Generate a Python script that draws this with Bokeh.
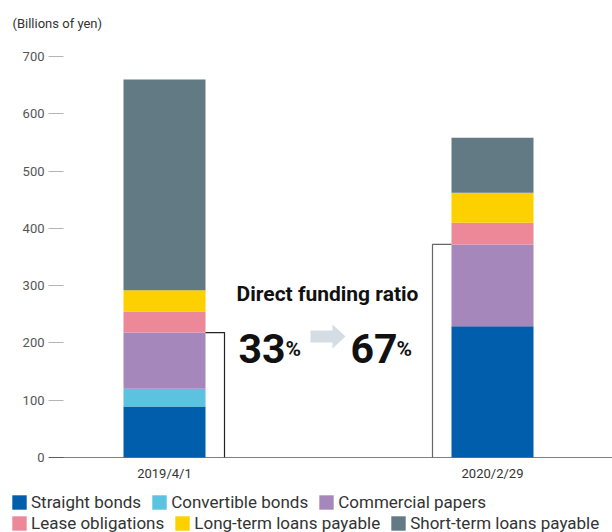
from bokeh.plotting import figure
from bokeh.layouts import column
from bokeh.models import (ColumnDataSource, FixedTicker, Range1d, Span, Label,
                          Legend, LegendItem)
from bokeh.embed import file_html
from bokeh.resources import INLINE

# ---- data ----
dates = ["2019/4/1", "2020/2/29"]
straight_bonds = [89, 229]
convertible_bonds = [31, 0]
commercial_papers = [98, 143]
lease_obligations = [37, 38]
long_term_loans = [37, 52]
short_term_loans = [368, 96]
series_names = ["Straight bonds", "Convertible bonds", "Commercial papers",
                "Lease obligations", "Long-term loans payable", "Short-term loans payable"]
colors = ["#005eac", "#5bc2e0", "#a687bb", "#ec8898", "#fdd000", "#627a84"]
y_ticks = [0, 100, 200, 300, 400, 500, 600, 700]
ratio_before = "33"
ratio_after = "67"

# ---- geometry helpers (screen px -> data) ----
W = 612
H1 = 484                          # main chart height
H2 = 532 - H1                     # legend strip height
FL, FB, FT = 48, 457, 40          # frame left, bottom, top (px)
PX_PER_CAT = 328.0
PX_PER_UNIT = (457 - 56) / 700.0
xs = 1 - 116 / PX_PER_CAT
xe = xs + (W - FL) / PX_PER_CAT
ye = (FB - FT) / PX_PER_UNIT


def dx(px):
    return xs + (px - FL) / PX_PER_CAT


def dy(py):
    return (FB - py) / PX_PER_UNIT


p = figure(width=W, height=H1, output_backend="svg", toolbar_location=None,
           x_range=Range1d(xs, xe), y_range=Range1d(0, ye),
           min_border_left=FL, min_border_right=0, min_border_top=FT,
           min_border_bottom=H1 - FB)
p.outline_line_color = None
p.grid.visible = False
p.background_fill_color = "white"

p.title.text = "(Billions of yen)"
p.title.align = "left"
p.title.offset = 12 - FL
p.title.standoff = 19
p.title.text_font = "Roboto"
p.title.text_font_style = "normal"
p.title.text_font_size = "13px"
p.title.text_color = "#333333"

xpos = [1, 2]
src = ColumnDataSource(dict(x=xpos,
                            s0=straight_bonds, s1=convertible_bonds, s2=commercial_papers,
                            s3=lease_obligations, s4=long_term_loans, s5=short_term_loans))
keys = ["s0", "s1", "s2", "s3", "s4", "s5"]
bar_w = 82 / PX_PER_CAT
rends = p.vbar_stack(keys, x="x", width=bar_w, color=colors, source=src, line_color=None)

# ---- axes ----
ya = p.yaxis[0]
ya.ticker = FixedTicker(ticks=y_ticks)
ya.axis_line_color = None
ya.major_tick_in = 15
ya.major_tick_out = 0
ya.major_tick_line_color = "#b5b5b5"
ya.major_tick_line_width = 1
ya.minor_tick_line_color = None
ya.major_label_standoff = 4
ya.major_label_text_font = "Roboto"
ya.major_label_text_font_size = "13px"
ya.major_label_text_color = "#555555"

xa = p.xaxis[0]
xa.ticker = FixedTicker(ticks=xpos)
xa.major_label_overrides = {1: dates[0], 2: dates[1]}
xa.axis_line_color = None
xa.major_tick_line_color = None
xa.minor_tick_line_color = None
xa.major_label_standoff = 2
xa.major_label_text_font = "Roboto"
xa.major_label_text_font_size = "13px"
xa.major_label_text_color = "#333333"

p.add_layout(Span(location=0, dimension="width", line_color="black", line_width=1.2))

# ---- brackets for direct funding ----
direct = [straight_bonds[i] + convertible_bonds[i] + commercial_papers[i] for i in range(2)]
off = 19 / PX_PER_CAT
p.line([1 + bar_w / 2, 1 + bar_w / 2 + off, 1 + bar_w / 2 + off],
       [direct[0], direct[0], 0], line_color="#222222", line_width=1.2)
p.line([2 - bar_w / 2, 2 - bar_w / 2 - off, 2 - bar_w / 2 - off],
       [direct[1], direct[1], 0], line_color="#666666", line_width=1.2)

# ---- annotation text ----
p.add_layout(Label(x=dx(327), y=dy(293), text="Direct funding ratio", text_font="Roboto",
                   text_font_style="bold", text_font_size="21px", text_color="#111111",
                   text_align="center", text_baseline="middle"))
p.add_layout(Label(x=dx(238), y=dy(348), text=ratio_before, text_font="Roboto",
                   text_font_style="bold", text_font_size="41px", text_color="#111111",
                   text_align="left", text_baseline="alphabetic"))
p.add_layout(Label(x=dx(285), y=dy(348), text="%", text_font="Roboto",
                   text_font_style="bold", text_font_size="21px", text_color="#111111",
                   text_align="left", text_baseline="alphabetic"))
p.add_layout(Label(x=dx(350), y=dy(348), text=ratio_after, text_font="Roboto",
                   text_font_style="bold", text_font_size="41px", text_color="#111111",
                   text_align="left", text_baseline="alphabetic"))
p.add_layout(Label(x=dx(396), y=dy(348), text="%", text_font="Roboto",
                   text_font_style="bold", text_font_size="21px", text_color="#111111",
                   text_align="left", text_baseline="alphabetic"))

# arrow
ax = [310, 332, 332, 345, 332, 332, 310]
ay = [330, 330, 324, 336, 348, 342, 342]
p.patch([dx(v) for v in ax], [dy(v) for v in ay], fill_color="#d3dde3", line_color=None)

# ---- legend strip ----
p2 = figure(width=W, height=H2, output_backend="svg", toolbar_location=None,
            x_range=Range1d(0, 1), y_range=Range1d(0, 1),
            x_axis_location=None, y_axis_location=None,
            min_border=0, min_border_left=0, min_border_right=0,
            min_border_top=0, min_border_bottom=0)
if hasattr(p2, "frame_align"):
    p2.frame_align = False
    p.frame_align = False
p2.outline_line_color = None
p2.grid.visible = False
# legend proxies (kept outside the visible range)
lrends = [p2.vbar(x=[-5], top=[0], width=0.1, fill_color=c, line_color=None) for c in colors]


def make_legend(idx, y):
    lg = Legend(items=[LegendItem(label=series_names[i], renderers=[lrends[i]]) for i in idx],
                orientation="horizontal", location=(10, y))
    lg.label_text_font = "Roboto"
    lg.label_text_font_size = "17px"
    lg.label_text_color = "#333333"
    lg.glyph_width = 18
    lg.glyph_height = 18
    lg.label_standoff = 3
    lg.spacing = 9
    lg.padding = 0
    lg.margin = 0
    lg.border_line_color = None
    lg.background_fill_alpha = 0
    lg.label_height = 18
    return lg


row1_center = 503 - H1
row2_center = 524 - H1
p2.add_layout(make_legend([0, 1, 2], H2 - row1_center - 9))
p2.add_layout(make_legend([3, 4, 5], H2 - row2_center - 9))

layout = column(p, p2, spacing=0)
open("out.html", "w").write(file_html(layout, INLINE))
